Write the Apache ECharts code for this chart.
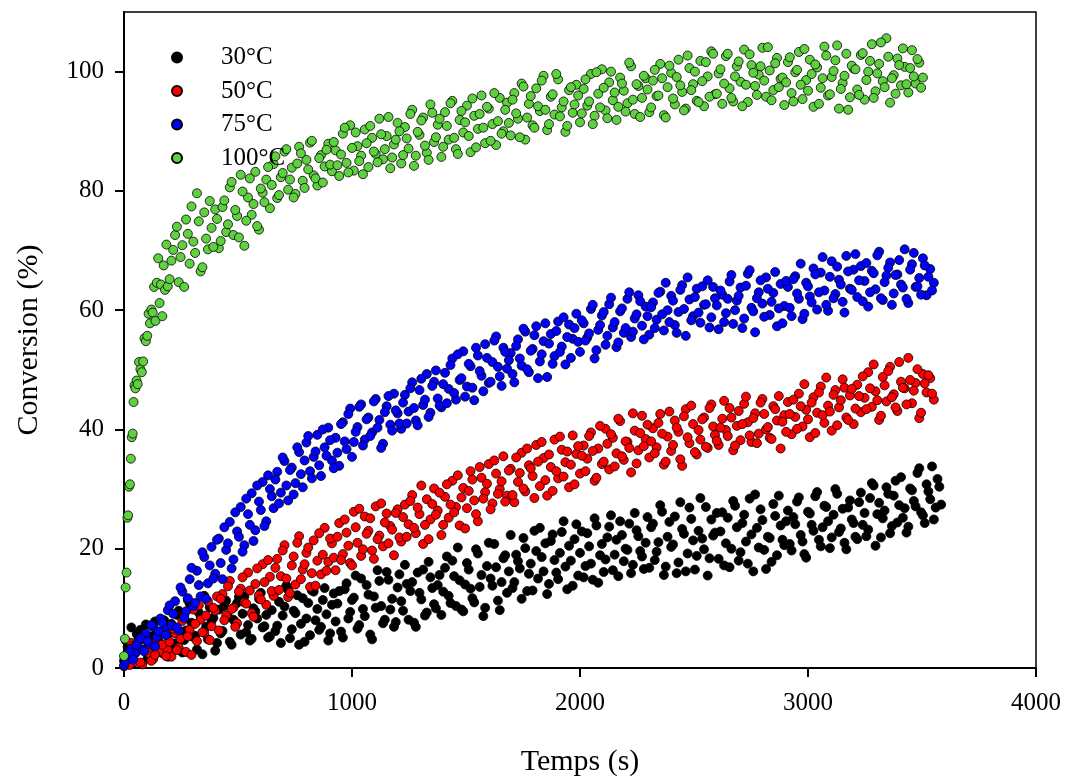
<!DOCTYPE html>
<html>
<head>
<meta charset="utf-8">
<script src="https://cdn.jsdelivr.net/npm/echarts@6/dist/echarts.min.js"></script>
<style>
html,body{margin:0;padding:0;background:#fff;}
#chart{width:1065px;height:776px;}
</style>
</head>
<body>
<div id="chart"></div>
<script>
// Sampling times (s), first pass
const times = [0,16,32,48,64,80,96,112,128,144,
160,176,192,208,224,240,256,272,288,304,
320,336,352,368,384,400,416,432,448,464,
480,496,512,528,544,560,576,592,608,624,
640,656,672,688,704,720,736,752,768,784,
800,816,832,848,864,880,896,912,928,944,
960,976,992,1008,1024,1040,1056,1072,1088,1104,
1120,1136,1152,1168,1184,1200,1216,1232,1248,1264,
1280,1296,1312,1328,1344,1360,1376,1392,1408,1424,
1440,1456,1472,1488,1504,1520,1536,1552,1568,1584,
1600,1616,1632,1648,1664,1680,1696,1712,1728,1744,
1760,1776,1792,1808,1824,1840,1856,1872,1888,1904,
1920,1936,1952,1968,1984,2000,2016,2032,2048,2064,
2080,2096,2112,2128,2144,2160,2176,2192,2208,2224,
2240,2256,2272,2288,2304,2320,2336,2352,2368,2384,
2400,2416,2432,2448,2464,2480,2496,2512,2528,2544,
2560,2576,2592,2608,2624,2640,2656,2672,2688,2704,
2720,2736,2752,2768,2784,2800,2816,2832,2848,2864,
2880,2896,2912,2928,2944,2960,2976,2992,3008,3024,
3040,3056,3072,3088,3104,3120,3136,3152,3168,3184,
3200,3216,3232,3248,3264,3280,3296,3312,3328,3344,
3360,3376,3392,3408,3424,3440,3456,3472,3488,3504,
3520,3536,3552,3568,3584];

// Sampling times (s), interleaved second pass
const timesB = [8,24,40,56,72,88,104,120,136,152,
168,184,200,216,232,248,264,280,296,312,
328,344,360,376,392,408,424,440,456,472,
488,504,520,536,552,568,584,600,616,632,
648,664,680,696,712,728,744,760,776,792,
808,824,840,856,872,888,904,920,936,952,
968,984,1000,1016,1032,1048,1064,1080,1096,1112,
1128,1144,1160,1176,1192,1208,1224,1240,1256,1272,
1288,1304,1320,1336,1352,1368,1384,1400,1416,1432,
1448,1464,1480,1496,1512,1528,1544,1560,1576,1592,
1608,1624,1640,1656,1672,1688,1704,1720,1736,1752,
1768,1784,1800,1816,1832,1848,1864,1880,1896,1912,
1928,1944,1960,1976,1992,2008,2024,2040,2056,2072,
2088,2104,2120,2136,2152,2168,2184,2200,2216,2232,
2248,2264,2280,2296,2312,2328,2344,2360,2376,2392,
2408,2424,2440,2456,2472,2488,2504,2520,2536,2552,
2568,2584,2600,2616,2632,2648,2664,2680,2696,2712,
2728,2744,2760,2776,2792,2808,2824,2840,2856,2872,
2888,2904,2920,2936,2952,2968,2984,3000,3016,3032,
3048,3064,3080,3096,3112,3128,3144,3160,3176,3192,
3208,3224,3240,3256,3272,3288,3304,3320,3336,3352,
3368,3384,3400,3416,3432,3448,3464,3480,3496,3512,
3528,3544,3560,3576];

// Extra early sampling times for the fast 100 °C run
const greenEarlyTimes = [0,4,7,11,15,18,22,26,30,34,38,42,46,50,55,60,66,72,78,84,
90,96,102,108,114,120,126,132,138,144,150,156,162,168,174,180,186,192];

const conv30 = [1.2,3.5,6.8,2.4,5.1,0.8,7.3,4.2,2.9,6.1,3.8,8.0,1.9,
7.4,4.1,9.6,2.6,6.3,10.8,5.2,3.1,8.7,12.1,4.8,7.9,2.9,
9.8,6.2,11.3,4.4,8.1,10.9,5.6,12.0,7.2,4.9,9.5,11.6,6.8,8.9,5.3,
12.4,7.1,4.2,10.3,13.1,6.5,9.2,3.9,11.7,8.3,5.5,12.8,9.9,6.9,13.4,4.6,10.6,
7.8,12.9,5.1,14.2,9.4,11.8,6.6,15.0,8.7,12.3,4.8,10.1,14.6,7.5,16.1,9.8,6.9,13.5,
11.2,17.3,8.1,14.4,6.9,12.6,16.5,9.3,15.2,10.7,13.9,
8.9,16.8,12.1,18.0,10.4,14.7,9.5,17.6,13.3,11.0,19.2,15.6,10.1,21.0,13.8,16.9,9.7,18.4,12.6,
22.3,14.4,17.9,11.6,20.1,15.8,13.0,19.6,23.5,16.2,12.4,21.3,18.1,14.9,22.8,17.0,20.5,13.8,24.1,
19.3,15.2,22.6,17.5,25.1,14.3,20.8,18.2,23.7,16.4,21.5,24.6,17.9,19.8,15.9,26.0,22.1,18.7,21.0,
16.8,24.2,19.5,27.3,15.6,22.0,20.3,25.4,17.7,23.3,16.2,26.9,21.4,18.8,28.5,19.9,15.5,24.9,22.7,
18.3,26.1,20.9,16.9,28.0,23.6,19.4,25.7,17.5,22.4,29.1,20.2,24.8,16.6,21.8,27.5,18.9,23.9,20.6,
26.4,19.7,24.1,28.6,21.2,18.5,25.9,23.0,29.5,20.4,27.2,24.6,21.9,30.0,22.8,26.7,19.9,28.1,24.3,
21.6,29.4,26.0,23.2,31.0,20.5,27.7,25.1,30.3,22.6,28.9,24.4,32.0,26.8,23.7,29.8,27.1,33.5,25.6,30.8,28.3,24.9,31.7,27.4];
const conv30b = [4.6,2.2,0.9,5.7,6.4,3.0,1.7,5.3,7.8,4.4,2.5,6.6,5.9,
3.4,8.9,6.1,4.7,11.4,7.6,5.4,9.3,2.3,6.9,10.2,8.4,4.2,
5.8,10.4,8.6,3.9,7.7,11.9,9.1,6.0,4.6,10.0,8.3,12.6,7.0,5.1,9.7,
6.2,11.1,8.8,13.8,5.0,9.6,12.2,7.4,4.4,10.9,13.0,8.0,6.4,11.4,9.0,5.8,12.5,
10.8,6.1,13.2,8.3,11.4,15.5,7.2,9.9,13.9,5.6,12.0,16.4,10.4,8.1,14.8,11.6,7.7,15.7,
9.6,14.1,12.9,7.6,16.0,11.5,8.8,17.8,13.4,10.0,15.6,
12.8,18.7,10.9,15.4,20.2,9.8,14.0,16.5,11.7,19.9,13.6,8.7,17.1,15.0,20.8,11.3,14.4,18.9,16.2,
13.4,19.0,16.7,21.8,12.9,17.5,23.0,15.0,18.6,20.9,14.1,22.4,16.0,19.3,24.6,13.2,18.0,21.6,15.5,
22.9,17.1,20.4,14.8,23.9,18.9,16.1,21.9,25.6,19.0,15.4,22.3,20.0,24.2,17.3,23.1,19.6,16.6,25.3,
23.6,18.1,21.1,26.2,17.0,24.5,20.7,15.9,27.8,22.5,19.2,25.0,16.5,23.0,21.7,27.0,18.4,22.2,26.0,
22.9,17.2,25.2,20.0,27.2,18.0,24.3,21.2,28.4,16.2,23.5,26.6,19.8,22.0,17.8,25.5,28.9,21.5,24.6,
20.8,25.3,27.9,22.3,19.1,26.2,24.0,28.8,21.5,23.6,27.0,20.1,25.7,29.2,23.4,21.0,26.9,24.9,22.0,
27.8,24.0,22.1,28.5,30.6,25.8,21.9,26.4,29.2,23.8,31.4,27.3,25.2,22.7,30.1,28.0,32.7,26.1,24.3,29.6,33.8,26.9,30.4];

const conv50 = [0.3,2.1,4.2,1.0,3.3,0.6,5.0,2.4,1.5,4.6,2.8,6.1,3.0,
1.9,5.8,3.4,7.9,2.7,6.4,9.8,4.5,8.1,5.9,11.2,7.0,9.6,
6.3,12.4,8.8,14.6,10.1,7.5,13.3,11.0,16.0,9.2,14.1,12.2,17.4,10.6,15.3,
12.1,18.3,15.4,20.6,11.9,17.2,14.0,22.1,16.5,19.3,13.6,21.4,18.0,15.7,23.5,17.8,20.9,
16.4,24.3,19.1,22.7,17.6,26.2,21.0,18.8,25.4,23.0,19.7,27.1,22.2,20.4,25.9,23.8,18.9,26.6,
21.2,27.4,24.1,29.0,22.6,25.8,20.8,28.3,24.9,30.1,26.4,
22.3,28.7,25.2,31.4,27.0,23.9,30.2,26.8,33.0,28.1,24.6,31.9,29.5,34.2,27.6,32.6,30.0,35.5,28.9,
33.4,27.8,31.2,36.1,29.6,34.0,32.2,37.4,30.5,35.2,28.9,33.7,38.3,31.8,36.6,34.5,30.3,39.0,35.9,
32.6,37.3,35.1,39.5,31.4,36.8,34.2,40.1,33.3,38.6,36.0,41.4,34.9,37.9,32.8,39.8,36.5,42.3,38.4,
35.3,40.2,37.0,42.6,34.1,38.8,36.4,41.5,39.6,33.9,43.4,37.7,40.9,35.8,38.3,42.0,36.9,44.2,39.1,
37.4,41.8,39.9,43.6,36.5,40.6,38.2,44.3,41.2,37.9,42.7,39.3,45.1,40.0,38.6,43.9,41.5,36.8,42.4,
44.6,39.2,42.1,46.0,40.5,43.3,38.7,45.4,42.8,47.2,41.1,44.0,39.8,46.6,43.7,48.4,42.0,45.7,40.9,
47.5,42.9,45.3,49.6,43.8,46.4,41.6,48.8,44.7,50.5,45.9,43.1,48.0,46.9,52.0,44.4,47.8,41.9,49.3,46.2,48.6,45.0];
const conv50b = [1.6,0.5,3.7,2.9,0.9,4.8,3.5,1.2,2.2,5.4,3.9,2.0,4.4,
6.6,3.0,4.9,8.7,5.3,2.2,7.4,10.5,6.0,8.8,4.7,10.1,12.0,
11.6,8.0,13.7,9.9,6.9,12.8,15.2,10.8,13.0,8.6,16.7,11.5,14.4,18.1,12.9,
16.8,13.1,19.7,15.0,12.6,18.7,21.0,14.9,17.4,20.2,15.9,13.8,22.6,19.0,16.3,21.7,18.5,
22.0,18.1,24.9,20.5,17.2,23.6,26.7,19.9,22.5,25.1,18.3,21.6,27.6,24.4,20.9,23.2,26.0,21.9,
25.3,22.0,28.0,23.5,26.9,30.6,24.0,21.6,27.5,25.7,29.4,
24.0,30.8,27.4,26.1,32.3,28.6,23.4,29.7,31.6,25.8,33.7,28.4,30.9,26.6,34.8,29.2,31.3,27.9,33.1,
29.0,35.3,32.7,30.1,36.8,33.5,28.5,34.6,37.9,31.5,35.8,29.7,33.0,38.8,32.1,36.3,34.1,30.8,37.2,
35.6,33.0,38.9,36.4,31.9,40.6,34.6,37.6,39.2,33.8,41.8,35.5,38.0,36.9,42.7,34.3,39.4,37.2,40.8,
38.0,36.0,41.1,39.3,34.6,43.0,37.4,40.3,35.0,42.2,38.7,44.0,36.2,39.9,41.7,37.1,43.6,40.5,38.1,
40.3,44.8,38.9,42.0,37.3,43.1,40.9,45.5,39.0,41.9,37.7,44.5,42.6,40.4,38.4,43.4,45.6,41.3,39.6,
42.6,45.0,40.1,43.9,47.6,41.7,44.5,39.4,46.2,42.4,48.7,43.0,45.8,40.7,44.9,47.0,41.6,46.8,43.5,
45.6,48.9,43.4,46.9,50.9,44.9,42.3,47.4,49.8,45.4,43.7,51.3,47.0,44.2,48.3,46.5,50.1,42.8,47.7,49.1,46.0];

const conv75 = [0.4,1.8,3.2,2.5,4.6,3.1,5.8,4.0,6.9,5.2,8.3,6.4,9.7,
7.1,11.2,6.3,12.8,9.5,14.9,10.4,16.3,12.0,18.6,14.2,20.3,15.8,
21.7,14.9,19.8,24.5,18.2,22.9,27.0,20.6,25.8,29.3,23.1,27.9,31.2,24.6,30.0,
26.8,32.9,29.4,34.7,28.1,33.6,31.0,36.2,30.3,37.8,33.0,35.4,39.1,32.2,37.0,40.3,34.8,
38.6,33.9,41.2,36.7,43.5,37.9,40.4,44.2,38.3,42.0,39.5,45.1,41.6,37.6,43.9,40.8,46.0,42.7,
40.1,45.8,43.0,47.9,41.5,46.6,44.1,49.3,42.8,48.0,45.2,
43.7,49.5,46.8,51.9,45.0,48.3,53.1,47.2,50.6,44.9,52.4,49.0,54.3,47.8,51.3,55.6,48.9,53.7,50.2,
52.8,47.9,55.1,50.7,56.4,49.6,53.5,57.3,51.4,54.8,48.8,56.0,52.3,58.1,53.9,50.9,57.6,55.2,59.4,
53.0,57.8,55.4,60.2,51.9,56.7,59.1,54.2,61.0,57.1,53.8,59.8,56.2,61.9,55.5,58.6,62.5,57.4,60.6,
55.9,61.3,58.4,63.1,56.6,60.0,62.4,57.5,59.7,64.2,55.7,61.8,59.0,63.6,57.9,60.9,65.0,58.8,62.0,
56.8,62.6,59.5,64.8,57.7,61.6,63.8,58.6,66.1,60.4,56.3,63.0,61.1,65.5,59.2,62.9,57.3,64.4,60.7,
63.9,59.0,65.7,61.9,58.5,64.6,62.3,67.0,60.1,66.3,63.3,59.9,68.2,62.7,65.1,61.4,69.1,63.6,66.8,
62.2,67.4,64.9,60.6,66.6,63.5,69.8,61.7,65.8,68.0,62.8,66.0,64.3,70.2,61.2,67.7,63.9,65.4,68.7,62.5,66.9,64.6];
const conv75b = [1.1,2.6,1.4,3.9,5.0,2.8,4.5,7.2,3.6,6.1,7.6,5.5,10.5,
9.1,6.8,13.5,8.4,11.7,16.8,10.9,13.9,19.4,11.6,17.2,15.0,21.5,
17.6,23.6,20.9,16.7,26.1,22.0,19.5,28.4,24.0,21.3,30.6,26.5,23.8,32.3,28.8,
31.6,27.6,35.3,30.6,33.2,29.1,37.0,32.5,34.8,38.9,31.8,36.3,34.0,40.0,35.6,38.2,33.5,
36.1,40.9,38.0,42.6,35.4,39.6,43.8,37.3,41.7,38.9,44.7,40.3,36.9,42.9,45.6,39.8,43.2,41.0,
44.5,41.0,46.9,43.6,40.7,48.5,45.0,42.1,47.3,49.9,44.0,
47.6,44.4,50.8,46.1,52.6,48.6,45.5,51.0,47.0,53.7,49.8,46.4,52.0,48.0,54.9,50.5,47.3,53.0,51.6,
49.3,54.0,51.9,56.9,50.1,53.2,55.8,48.6,52.6,57.8,54.4,51.0,56.5,53.0,58.8,55.5,52.0,57.0,54.7,
58.3,54.9,56.1,60.9,53.3,57.5,59.7,55.7,62.1,58.0,54.6,60.3,57.0,63.0,56.4,59.3,61.5,55.1,59.0,
60.5,57.0,62.9,59.3,64.6,58.0,61.6,56.2,63.4,60.2,65.5,58.3,62.2,59.6,64.0,61.0,57.1,63.9,60.8,
63.3,58.0,61.9,65.9,60.0,62.4,57.0,64.1,66.7,59.8,62.0,65.0,58.9,63.6,61.4,66.4,60.3,57.8,64.9,
60.4,65.2,62.8,67.8,59.4,64.0,61.3,66.0,63.0,68.9,60.9,65.6,62.0,67.3,64.3,59.6,66.5,63.4,69.4,
65.0,61.5,67.9,63.0,66.2,69.2,62.0,64.7,67.1,60.9,65.9,68.4,63.8,61.9,66.8,69.6,64.0,62.6,67.5,65.6,63.3];

// 100 °C: values at greenEarlyTimes, then at times (from 208 s) and timesB (from 200 s)
const conv100Early = [2.0,4.9,13.5,16.0,25.2,25.6,30.4,30.8,35.1,38.7,
39.3,44.6,47.4,46.9,48.2,47.6,51.3,50.1,49.6,51.4,
55.3,54.8,55.7,59.4,57.8,60.1,59.6,63.9,58.2,64.6,
68.7,61.2,64.3,59.0,67.5,63.4,71.0,64.0];
const conv100 = [68.3,72.6,64.7,70.9,75.2,67.8,71.5,79.6,66.5,76.4,70.2,73.8,76.9,
70.4,77.3,73.1,80.6,72.6,75.8,82.7,70.8,78.9,76.0,83.2,73.5,79.7,81.9,77.1,
84.5,78.8,82.3,86.6,80.2,83.9,79.5,87.4,81.7,85.2,88.1,82.6,80.9,86.0,84.1,87.9,83.3,
86.8,82.5,89.6,84.7,91.0,83.4,87.5,85.9,90.3,84.0,88.9,86.2,92.1,85.3,89.2,83.8,87.8,91.4,
84.6,90.7,87.1,93.6,85.9,89.4,92.3,86.4,94.5,88.2,91.1,
85.7,93.2,88.6,95.1,87.0,91.9,89.8,94.3,86.5,92.6,90.4,96.0,88.0,93.8,91.2,87.7,95.6,90.0,94.8,
89.3,96.4,92.1,98.0,88.6,94.6,91.0,97.2,93.4,99.3,90.2,95.8,92.8,98.7,94.0,89.9,96.9,93.1,97.8,
91.5,97.1,94.3,99.6,92.6,96.3,100.4,93.5,98.2,95.2,91.9,99.0,96.8,94.7,100.9,92.9,97.6,95.6,98.9,
93.2,98.5,95.9,101.3,92.7,97.4,99.8,94.5,102.0,96.6,93.8,100.6,97.9,95.1,101.8,94.2,99.2,103.4,96.2,
99.7,94.6,102.6,97.2,95.0,100.9,98.3,103.7,94.9,101.1,97.6,99.5,104.0,95.8,100.2,96.9,102.3,98.8,94.4,
101.6,96.4,99.9,103.3,95.4,98.6,102.0,94.1,100.7,97.3,104.2,96.0,99.1,101.9,93.8,98.1,103.0,95.7,100.5,
97.0,102.8,95.3,100.0,104.6,96.7,101.3,98.4,105.6,94.8,99.4,102.2,97.7,100.8,96.5,103.6,98.0,101.5,99.0];
const conv100b = [65.2,70.1,74.0,68.9,63.9,72.8,77.4,69.6,74.9,67.2,72.0,78.3,70.6,
75.3,71.6,78.4,74.4,81.5,76.8,72.2,79.9,75.0,82.1,77.8,74.1,80.4,78.1,84.0,
81.0,85.8,79.3,83.0,87.0,81.9,78.9,84.6,86.3,80.5,83.6,88.4,82.1,85.5,81.4,86.9,84.4,
88.2,84.3,86.1,90.6,83.1,87.2,89.8,85.0,82.8,88.0,90.9,86.6,84.8,89.5,87.0,92.4,85.6,88.6,
90.0,86.0,88.8,92.9,84.2,89.9,91.8,87.6,85.2,93.1,89.0,
92.1,87.4,90.9,94.7,88.9,86.2,93.4,91.5,89.2,95.5,87.3,92.9,90.6,94.1,88.4,96.4,91.7,89.6,93.6,
91.4,95.3,93.0,89.0,97.5,92.3,95.9,90.6,94.2,98.5,93.6,91.2,96.2,99.6,92.5,95.0,90.9,97.4,94.5,
96.0,93.0,98.7,95.0,91.2,99.9,94.0,97.3,92.2,100.0,96.5,94.1,98.0,93.3,101.5,95.3,97.9,92.4,99.3,
97.0,94.0,100.3,96.0,98.9,92.3,101.0,95.5,99.1,97.7,93.5,102.7,96.9,100.0,94.9,98.4,101.6,95.8,103.0,
96.3,100.4,98.0,103.0,95.6,99.2,101.7,94.2,97.8,102.9,99.8,96.1,100.9,98.5,104.1,95.2,101.4,97.4,99.0,
98.2,102.4,95.0,100.3,97.8,103.8,96.8,99.6,101.2,94.6,98.9,102.7,96.2,100.1,104.4,97.1,99.3,93.6,101.0,
100.4,96.1,103.1,98.6,101.8,95.6,99.7,104.9,97.4,102.5,98.9,96.3,101.1,103.9,97.9,100.6,99.2,102.1,97.3];

const seriesNames = ['30°C','50°C','75°C','100°C'];
const seriesColors = ['#000000','#ff0000','#0000ff','#5fd03f'];
const xTicks = [0,1000,2000,3000,4000];
const yTicks = [0,20,40,60,80,100];

function zip(ts, ys){
  const n = Math.min(ts.length, ys.length);
  const out = [];
  for (let i = 0; i < n; i++) out.push([ts[i], ys[i]]);
  return out;
}

const allData = [
  zip(times, conv30).concat(zip(timesB, conv30b)),
  zip(times, conv50).concat(zip(timesB, conv50b)),
  zip(times, conv75).concat(zip(timesB, conv75b)),
  zip(greenEarlyTimes, conv100Early).concat(zip(times.slice(13), conv100), zip(timesB.slice(12), conv100b))
];

const font = '"Liberation Serif","Times New Roman",serif';
const chart = echarts.init(document.getElementById('chart'), null, {renderer:'canvas'});
chart.setOption({
  animation: false,
  backgroundColor: '#fff',
  grid: {
    left: 124, right: 29, top: 12, bottom: 108,
    containLabel: false, outerBoundsMode: 'none',
    show: true, borderColor: '#000', borderWidth: 1.5, backgroundColor: 'transparent'
  },
  legend: {
    orient: 'vertical',
    left: 166, top: 40,
    itemWidth: 10, itemHeight: 10,
    itemGap: 8.5,
    icon: 'circle',
    data: seriesNames,
    textStyle: {fontFamily: font, fontSize: 25, color: '#000', lineHeight: 25, padding: [0,0,0,34]}
  },
  xAxis: {
    type: 'value', min: 0, max: 4000, interval: 1000,
    name: 'Temps (s)', nameLocation: 'middle', nameGap: 79,
    nameTextStyle: {fontFamily: font, fontSize: 30, color: '#000'},
    axisLine: {show: true, lineStyle: {color: '#000', width: 2}},
    axisTick: {show: true, inside: false, length: 9, lineStyle: {color: '#000', width: 2}, customValues: xTicks},
    axisLabel: {fontFamily: font, fontSize: 25, color: '#000', margin: 23, customValues: xTicks,
      formatter: v => String(v)},
    splitLine: {show: false}
  },
  yAxis: {
    type: 'value', min: 0, max: 110,
    name: 'Conversion (%)', nameLocation: 'middle', nameGap: 80, nameRotate: 90,
    nameTextStyle: {fontFamily: font, fontSize: 30, color: '#000'},
    axisLine: {show: true, lineStyle: {color: '#000', width: 2}},
    axisTick: {show: true, inside: false, length: 9, lineStyle: {color: '#000', width: 2}, customValues: yTicks},
    axisLabel: {fontFamily: font, fontSize: 25, color: '#000', margin: 20, customValues: yTicks,
      formatter: v => String(v)},
    splitLine: {show: false}
  },
  series: seriesNames.map((nm, k) => ({
    name: nm,
    type: 'scatter',
    symbol: 'circle',
    symbolSize: 9,
    data: allData[k],
    itemStyle: {color: seriesColors[k], borderColor: '#000', borderWidth: 0.8, opacity: 1},
    emphasis: {disabled: true}
  }))
});
</script>
</body>
</html>
